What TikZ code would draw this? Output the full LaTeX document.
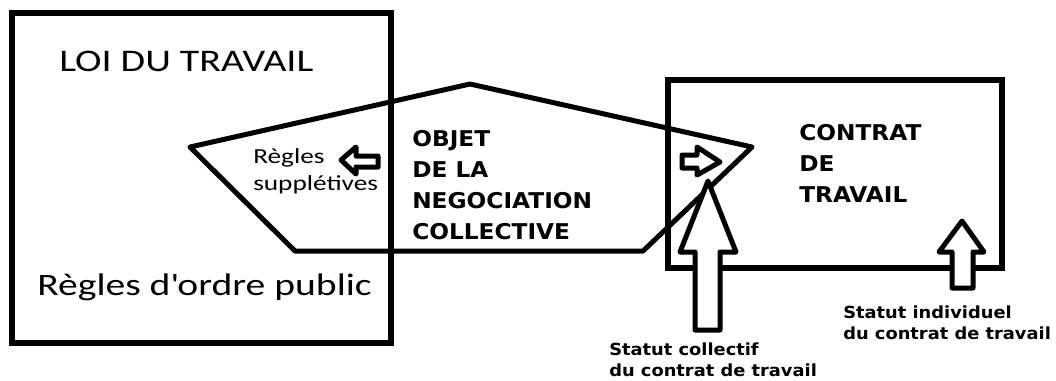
\documentclass[tikz,border=0pt]{standalone}
\usepackage{fontspec}
\setmainfont{Carlito}[FakeStretch=1.27]
\newfontfamily\grasfont{DejaVu Sans}[FakeStretch=1.07]

\begin{document}
\begin{tikzpicture}[x=0.75pt,y=-0.75pt,
    every node/.style={inner sep=0pt, text=black},
    cadre/.style={line width=5pt},
    zone/.style={line width=3.75pt, line join=round},
    fleche/.style={line width=3.75pt, line join=round, fill=white},
    grand/.style={font=\grasfont\bfseries\fontsize{16.3}{23.2}\selectfont, align=left, anchor=north west},
    petit/.style={font=\grasfont\bfseries\fontsize{12.5}{15.7}\selectfont, align=left, anchor=north west}]
        \useasboundingbox (0,0) rectangle (1056,380);

        % loi du travail
        \draw[cadre] (12,13) rectangle (391,343);
        \draw (59,71) node[anchor=base west, font=\fontsize{23.6}{28}\selectfont] (loi) {LOI DU TRAVAIL};
        \draw (37,295) node[anchor=base west, font=\fontsize{23.4}{28}\selectfont] (ordre) {Règles d\textquotesingle ordre public};

        % contrat de travail
        \draw[cadre] (668,80) rectangle (1002,268);
        \draw (799,124) node[grand] (contrat) {CONTRAT\\DE\\TRAVAIL};

        % negociation collective
        \draw[zone] (190,147) -- (470,84) -- (752,147) -- (643,251) -- (295,251) -- cycle;
        \draw (412,130) node[grand] (objet) {OBJET\\DE LA\\NEGOCIATION\\COLLECTIVE};
        \draw (253,148) node[anchor=north west, align=left, font=\fontsize{16.1}{20.3}\selectfont] (suppl) {Règles\\supplétives};

        % fleches
        \draw[fleche] (341,160) -- (356,147) -- (356,156) -- (378,156) -- (378,167) -- (356,167) -- (356,174) -- cycle;
        \draw[fleche] (720,162) -- (697,147) -- (697,155) -- (682,155) -- (682,168) -- (697,168) -- (697,175) -- cycle;
        \draw[fleche] (708,181) -- (736,252) -- (720,252) -- (720,330) -- (695,330) -- (695,252) -- (680,252) -- cycle;
        \draw[fleche] (962,221) -- (984,252) -- (973,252) -- (973,288) -- (952,288) -- (952,252) -- (939,252) -- cycle;

        % statuts
        \draw (609,343) node[petit] (collectif) {Statut collectif\\du contrat de travail};
        \draw (843,306) node[petit] (individuel) {Statut individuel\\du contrat de travail};

      \end{tikzpicture}
\end{document}
